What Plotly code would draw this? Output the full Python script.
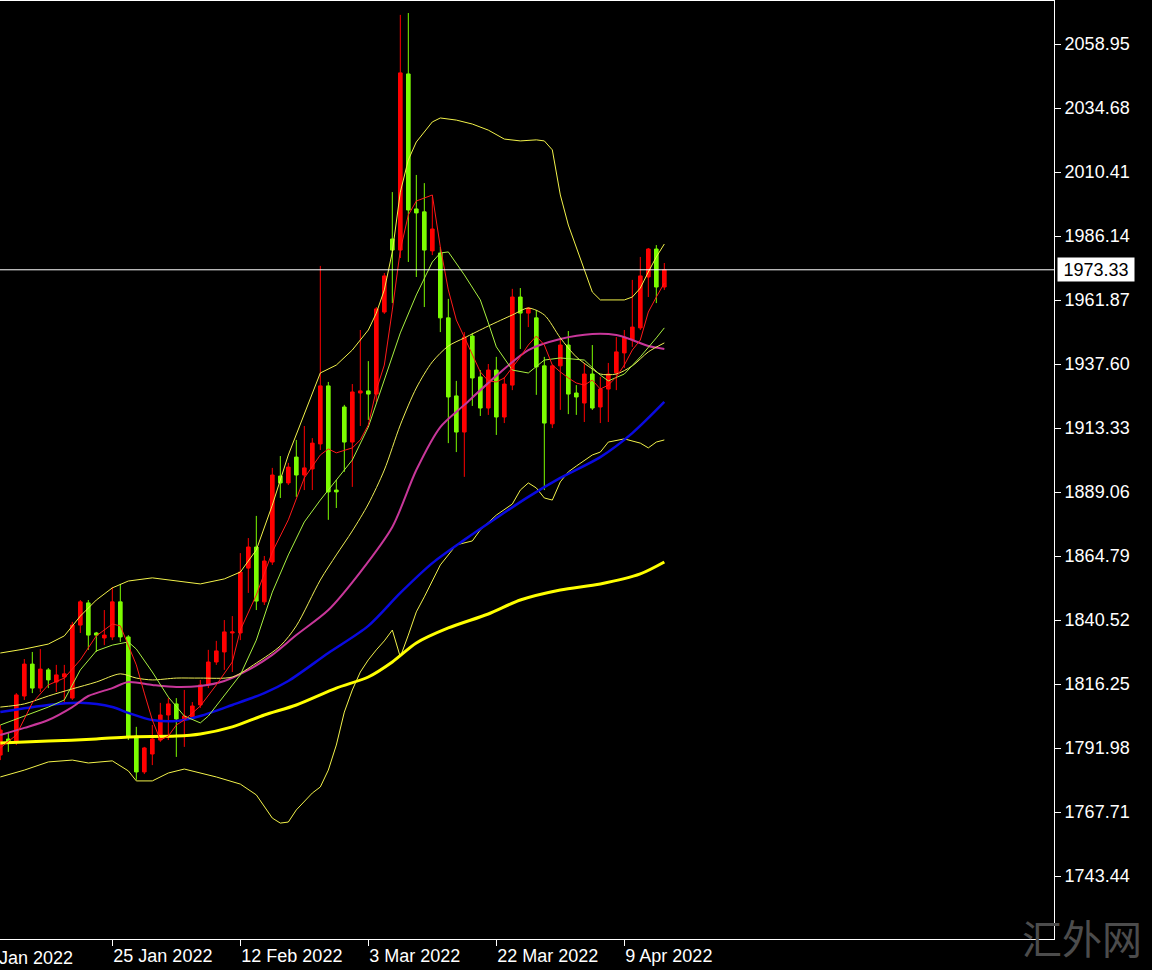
import plotly.graph_objects as go

# ---------------- candles (one bar per index) ----------------
bar_index = list(range(84))
bar_open = [1789.3, 1795.4, 1794.3, 1811.7, 1823.8, 1814.7, 1821.6, 1817.0, 1818.9, 1810.9,
            1838.6, 1847.0, 1835.6, 1833.7, 1834.1, 1847.4, 1834.1, 1796.5, 1782.9, 1789.7,
            1795.0, 1804.5, 1808.7, 1803.0, 1803.7, 1808.3, 1815.9, 1824.6, 1828.4, 1835.6,
            1835.6, 1860.2, 1868.2, 1847.4, 1862.5, 1895.1, 1892.5, 1902.3, 1895.5, 1897.8,
            1907.3, 1929.3, 1889.8, 1921.3, 1908.0, 1926.6, 1927.4, 1926.2, 1957.3, 1985.0,
            1980.8, 2047.6, 1996.4, 1995.3, 1980.5, 1979.7, 1955.1, 1925.5, 1911.8, 1948.2,
            1932.7, 1920.9, 1935.3, 1917.5, 1929.6, 1963.0, 1956.9, 1955.1, 1936.9, 1914.9,
            1936.9, 1944.8, 1926.6, 1922.8, 1933.8, 1921.3, 1928.1, 1934.2, 1941.8, 1946.7,
            1951.3, 1970.6, 1981.2, 1966.8]
bar_high = [1800.7, 1797.7, 1812.8, 1825.7, 1828.4, 1829.5, 1822.3, 1823.5, 1823.5, 1839.8,
            1848.1, 1848.1, 1836.0, 1844.3, 1853.0, 1854.2, 1834.8, 1800.0, 1792.4, 1800.7,
            1809.1, 1810.9, 1810.9, 1814.0, 1809.4, 1817.8, 1829.2, 1832.6, 1840.5, 1842.0,
            1865.9, 1871.6, 1880.0, 1864.8, 1898.2, 1902.7, 1900.1, 1908.8, 1914.1, 1909.5,
            1974.8, 1930.8, 1893.6, 1922.1, 1930.0, 1950.5, 1938.7, 1959.2, 1972.1, 2002.8,
            2070.0, 2070.7, 2009.3, 2006.2, 2000.9, 1982.0, 1962.3, 1931.2, 1949.7, 1949.4,
            1935.3, 1937.6, 1940.3, 1932.7, 1966.1, 1966.4, 1959.2, 1958.1, 1940.3, 1937.2,
            1946.7, 1950.1, 1929.6, 1938.0, 1944.8, 1932.7, 1938.0, 1947.8, 1950.5, 1969.5,
            1978.2, 1981.6, 1982.7, 1975.9]
bar_low = [1787.4, 1790.5, 1793.1, 1810.2, 1812.8, 1813.2, 1814.7, 1813.2, 1809.1, 1810.2,
           1835.6, 1829.2, 1828.4, 1831.0, 1832.9, 1832.2, 1795.0, 1779.9, 1782.1, 1785.5,
           1794.3, 1795.0, 1788.6, 1792.4, 1802.6, 1807.2, 1814.7, 1823.5, 1821.6, 1820.8,
           1832.9, 1850.8, 1844.3, 1846.2, 1861.4, 1886.8, 1891.7, 1887.2, 1889.8, 1889.8,
           1905.0, 1878.5, 1883.0, 1896.7, 1891.0, 1914.1, 1916.4, 1923.2, 1956.6, 1960.7,
           1977.8, 1976.3, 1970.6, 1959.2, 1978.9, 1949.7, 1907.6, 1904.2, 1894.8, 1921.7,
           1917.9, 1918.3, 1910.7, 1915.2, 1927.7, 1943.3, 1951.6, 1925.9, 1889.8, 1913.3,
           1920.2, 1918.6, 1918.3, 1915.6, 1920.2, 1915.2, 1915.6, 1927.7, 1936.1, 1944.1,
           1950.5, 1963.0, 1960.7, 1965.7]
bar_close = [1798.8, 1793.9, 1812.1, 1823.8, 1814.7, 1821.9, 1817.8, 1819.7, 1820.1, 1838.6,
             1847.4, 1834.8, 1834.8, 1834.8, 1847.4, 1834.1, 1796.5, 1782.9, 1792.0, 1795.4,
             1804.5, 1808.7, 1803.0, 1804.1, 1807.9, 1815.9, 1824.6, 1828.8, 1836.0, 1836.0,
             1858.7, 1868.2, 1847.7, 1862.9, 1895.5, 1892.5, 1898.5, 1895.5, 1898.2, 1907.6,
             1929.3, 1889.1, 1889.1, 1908.0, 1927.0, 1927.4, 1926.2, 1958.5, 1971.0, 1980.8,
             2048.0, 1996.0, 1994.9, 1980.8, 1988.8, 1955.1, 1925.1, 1911.8, 1947.8, 1932.3,
             1920.9, 1935.3, 1917.5, 1930.0, 1963.0, 1956.9, 1958.8, 1936.5, 1915.2, 1936.9,
             1944.8, 1926.2, 1925.1, 1933.8, 1920.9, 1928.1, 1933.8, 1942.2, 1947.8, 1951.6,
             1971.0, 1981.2, 1966.8, 1973.33]

# ---------------- indicator lines (bar index, value) ----------------
ma_red_idx = [0, 2, 4, 6, 8, 10, 12, 14, 15, 16, 17, 18, 19, 20, 21, 22, 23, 25, 27, 29, 30, 32, 34,
              36, 38, 40, 41, 42, 44, 45, 46, 47, 48, 49, 50, 51, 52, 54, 55, 56, 57, 58, 59, 60,
              61, 62, 63, 64, 65, 66, 67, 68, 69, 70, 71, 72, 73, 74, 75, 76, 77, 78, 79, 80, 81,
              82, 83]
ma_red_val = [1792.0, 1796.9, 1809.1, 1815.9, 1818.5, 1825.4, 1834.5, 1839.0, 1838.3, 1831.0,
              1823.5, 1812.8, 1802.6, 1795.0, 1796.5, 1800.7, 1802.6, 1807.9, 1815.9, 1824.6,
              1836.7, 1850.0, 1866.3, 1878.5, 1894.4, 1903.1, 1905.4, 1903.9, 1905.8, 1908.8,
              1914.5, 1927.7, 1937.2, 1958.1, 1980.8, 1994.1, 1999.4, 2001.7, 1982.0, 1965.7,
              1954.3, 1947.8, 1941.0, 1934.6, 1931.2, 1930.8, 1932.3, 1936.1, 1940.3, 1944.8,
              1948.2, 1944.8, 1937.2, 1934.6, 1932.3, 1930.4, 1929.6, 1931.5, 1928.1, 1929.6,
              1932.7, 1937.2, 1942.9, 1946.7, 1957.3, 1963.0, 1968.3]

ma_lime_idx = [0, 3, 6, 8, 10, 12, 14, 16, 17, 19, 21, 23, 25, 26, 28, 30, 32, 34, 36, 38, 40, 42,
               44, 46, 48, 50, 52, 54, 55, 56, 58, 60, 61, 62, 64, 66, 68, 70, 73, 75, 76, 78, 80,
               81, 82, 83]
ma_lime_val = [1800.7, 1804.1, 1807.5, 1810.2, 1821.6, 1828.8, 1831.0, 1832.2, 1829.5, 1820.8,
               1811.3, 1804.1, 1801.5, 1804.1, 1812.1, 1819.7, 1832.9, 1851.1, 1865.2, 1877.7,
               1886.0, 1893.6, 1901.2, 1913.7, 1931.5, 1949.4, 1963.8, 1976.3, 1979.7, 1980.1,
               1971.4, 1961.9, 1953.2, 1944.1, 1935.3, 1934.2, 1939.1, 1939.9, 1939.1, 1933.4,
               1931.2, 1933.8, 1940.3, 1943.7, 1947.5, 1951.3]

ma_mid_idx = [0, 3, 6, 9, 12, 15, 17, 19, 22, 25, 29, 32, 35, 37, 40, 42, 44, 46, 48, 50, 52, 54,
              56, 58, 61, 64, 66, 68, 70, 72, 74, 75, 77, 79, 81, 83]
ma_mid_val = [1807.5, 1808.7, 1811.7, 1814.4, 1817.0, 1820.1, 1818.5, 1817.8, 1818.5, 1818.5,
              1818.9, 1824.2, 1830.7, 1838.3, 1855.7, 1865.2, 1874.3, 1884.5, 1897.4, 1914.5,
              1928.5, 1938.4, 1944.4, 1947.5, 1952.0, 1956.2, 1958.8, 1956.2, 1947.5, 1940.3,
              1935.7, 1933.8, 1933.8, 1936.9, 1942.2, 1945.6]

ma_magenta_idx = [0, 3, 6, 9, 11, 14, 16, 19, 22, 25, 28, 31, 34, 37, 41, 45, 49, 52, 55, 58, 62,
                  66, 70, 74, 77, 79, 81, 83]
ma_magenta_val = [1796.9, 1799.6, 1802.6, 1807.5, 1811.7, 1814.7, 1817.0, 1815.9, 1815.1, 1815.5,
                  1817.4, 1821.6, 1827.3, 1834.8, 1844.3, 1858.7, 1875.8, 1897.4, 1913.7, 1922.1,
                  1933.1, 1942.9, 1947.1, 1949.0, 1948.6, 1946.7, 1944.4, 1943.3]

ma_blue_idx = [0, 6, 10, 14, 16, 19, 22, 25, 29, 33, 36, 41, 46, 50, 54, 58, 62, 66, 70, 75, 79, 83]
ma_blue_val = [1805.6, 1808.3, 1809.1, 1807.5, 1805.3, 1802.6, 1802.2, 1804.1, 1808.3, 1812.8,
               1817.4, 1828.0, 1838.3, 1850.8, 1862.1, 1870.9, 1879.2, 1887.2, 1894.4, 1902.3,
               1911.4, 1923.2]

ma_slow_idx = [0, 6, 12, 16, 22, 25, 29, 33, 37, 42, 46, 49, 52, 56, 61, 65, 70, 75, 80, 83]
ma_slow_val = [1793.9, 1794.6, 1795.4, 1796.2, 1796.5, 1797.3, 1800.0, 1804.5, 1808.3, 1814.7,
               1818.9, 1824.6, 1831.8, 1837.5, 1842.8, 1848.1, 1851.9, 1854.2, 1858.0, 1862.5]

band_up_idx = [0, 3, 6, 8, 10, 12, 14, 16, 19, 22, 25, 28, 30, 32, 34, 36, 38, 40, 42, 44, 46, 47,
               48, 49, 50, 51, 52, 54, 55, 57, 59, 61, 63, 65, 67, 68, 69, 70, 71, 72, 73, 74, 75,
               78, 79, 80, 81, 82, 83]
band_up_val = [1828.0, 1829.5, 1831.4, 1834.5, 1842.0, 1848.1, 1852.7, 1855.3, 1856.5, 1855.3,
               1854.2, 1856.1, 1858.7, 1867.1, 1884.1, 1903.1, 1918.3, 1934.2, 1937.2, 1942.9,
               1950.5, 1956.9, 1965.7, 1980.1, 2002.8, 2015.0, 2021.8, 2029.4, 2030.9, 2030.1,
               2028.6, 2026.3, 2022.9, 2022.2, 2022.6, 2022.2, 2018.8, 2001.7, 1990.3, 1981.6,
               1973.3, 1964.9, 1961.9, 1961.9, 1963.0, 1966.4, 1972.5, 1978.2, 1983.1]

band_low_idx = [0, 3, 6, 9, 11, 14, 16, 17, 19, 21, 23, 27, 30, 32, 34, 35, 36, 37, 39, 40, 41, 42,
                43, 44, 45, 46, 47, 48, 49, 50, 51, 52, 53, 55, 57, 59, 60, 62, 64, 65, 66, 67, 68,
                69, 70, 71, 72, 74, 75, 76, 78, 80, 81, 82, 83]
band_low_val = [1781.0, 1783.6, 1786.7, 1787.4, 1786.3, 1787.1, 1783.3, 1779.5, 1779.5, 1782.5,
                1784.0, 1781.0, 1778.3, 1774.2, 1765.4, 1763.5, 1763.9, 1768.5, 1774.9, 1777.2,
                1783.6, 1793.1, 1805.6, 1814.0, 1820.8, 1825.4, 1829.2, 1832.6, 1836.7, 1826.5,
                1834.8, 1843.6, 1849.3, 1861.4, 1869.0, 1870.5, 1874.7, 1880.3, 1884.5, 1889.8,
                1892.5, 1890.6, 1886.8, 1886.0, 1892.9, 1896.7, 1898.9, 1903.1, 1904.2, 1908.0,
                1909.2, 1907.6, 1905.8, 1908.0, 1908.8]

# ---------------- axis labels ----------------
price_ticks = [2058.95, 2034.68, 2010.41, 1986.14, 1961.87, 1937.60, 1913.33,
               1889.06, 1864.79, 1840.52, 1816.25, 1791.98, 1767.71, 1743.44]
date_tick_idx = [14, 30, 46, 62, 78]
date_tick_text = ["25 Jan 2022", "12 Feb 2022", "3 Mar 2022", "22 Mar 2022", "9 Apr 2022"]
first_date_idx = -2
first_date_text = "6 Jan 2022"
last_price = bar_close[-1]
watermark = "汇外网"

FONT = "Liberation Sans, Arial, sans-serif"
X_RANGE = [-0.04, 131.71]
PLOT_W = 1054

fig = go.Figure()

def add_line(xs, ys, color, width, shape="linear"):
    fig.add_trace(go.Scatter(x=xs, y=ys, mode="lines",
                             line=dict(color=color, width=width, shape=shape, smoothing=0.8),
                             hoverinfo="skip", showlegend=False))

add_line(band_up_idx, band_up_val, "#f2f24a", 1)
add_line(band_low_idx, band_low_val, "#f2f24a", 1)
add_line(ma_slow_idx, ma_slow_val, "#ffff00", 3, "spline")
add_line(ma_blue_idx, ma_blue_val, "#0a0ae0", 2.5, "spline")
add_line(ma_magenta_idx, ma_magenta_val, "#c8379a", 2, "spline")
add_line(ma_mid_idx, ma_mid_val, "#eeee55", 1, "spline")
add_line(ma_lime_idx, ma_lime_val, "#a8f040", 1)
add_line(ma_red_idx, ma_red_val, "#ff1a1a", 1)

fig.add_trace(go.Candlestick(
    x=bar_index, open=bar_open, high=bar_high, low=bar_low, close=bar_close,
    increasing=dict(line=dict(color="#ff0000", width=1), fillcolor="#ff0000"),
    decreasing=dict(line=dict(color="#7cfc00", width=1), fillcolor="#7cfc00"),
    whiskerwidth=0, hoverinfo="skip", showlegend=False))

fig.add_shape(type="line", xref="paper", x0=0, x1=1, yref="y", y0=last_price, y1=last_price,
              line=dict(color="#ffffff", width=1), layer="above")

fig.add_annotation(x=1057 / PLOT_W, xref="paper", xanchor="left", y=last_price, yref="y",
                   yanchor="middle", text=f"{last_price:.2f}", showarrow=False,
                   bgcolor="#ffffff", font=dict(color="#000000", size=18, family=FONT),
                   width=76, height=23, borderpad=0)

# first (partly hidden) date label, left of the plotted range
first_x_paper = (first_date_idx - X_RANGE[0]) / (X_RANGE[1] - X_RANGE[0])
fig.add_annotation(x=first_x_paper, xref="paper", xanchor="left", y=0, yref="paper",
                   yanchor="top", yshift=-7, xshift=-2, text=first_date_text, showarrow=False,
                   font=dict(color="#ffffff", size=18, family=FONT))

fig.add_annotation(x=1082 / PLOT_W, xref="paper", xanchor="center", y=0, yref="paper",
                   yanchor="middle", yshift=2, text=watermark, showarrow=False,
                   font=dict(color="#4c4c4c", size=40, family="Noto Sans CJK SC"))

fig.update_layout(
    width=1152, height=970,
    margin=dict(l=0, r=98, t=1, b=31),
    paper_bgcolor="#000000", plot_bgcolor="#000000",
    showlegend=False, boxgap=0.35,
    xaxis=dict(range=X_RANGE, type="linear", rangeslider=dict(visible=False),
               showgrid=False, zeroline=False, showline=True, linecolor="#ffffff",
               linewidth=1, mirror=True, ticks="outside", ticklen=6, tickcolor="#ffffff",
               tickvals=date_tick_idx, ticktext=date_tick_text,
               ticklabelposition="outside right",
               tickfont=dict(color="#ffffff", size=18, family=FONT)),
    yaxis=dict(range=[1719.55, 2075.26], side="right", showgrid=False, zeroline=False,
               showline=True, linecolor="#ffffff", linewidth=1, ticks="outside",
               ticklen=6, tickcolor="#ffffff", tickvals=price_ticks,
               ticktext=[f"{v:.2f}" for v in price_ticks],
               tickfont=dict(color="#ffffff", size=18, family=FONT)),
)

fig.write_html("out.html",
               config={"displayModeBar": False, "staticPlot": True},
               post_script="document.body.style.margin='0';document.body.style.overflow='hidden';"
                           "document.body.style.background='#000';")
